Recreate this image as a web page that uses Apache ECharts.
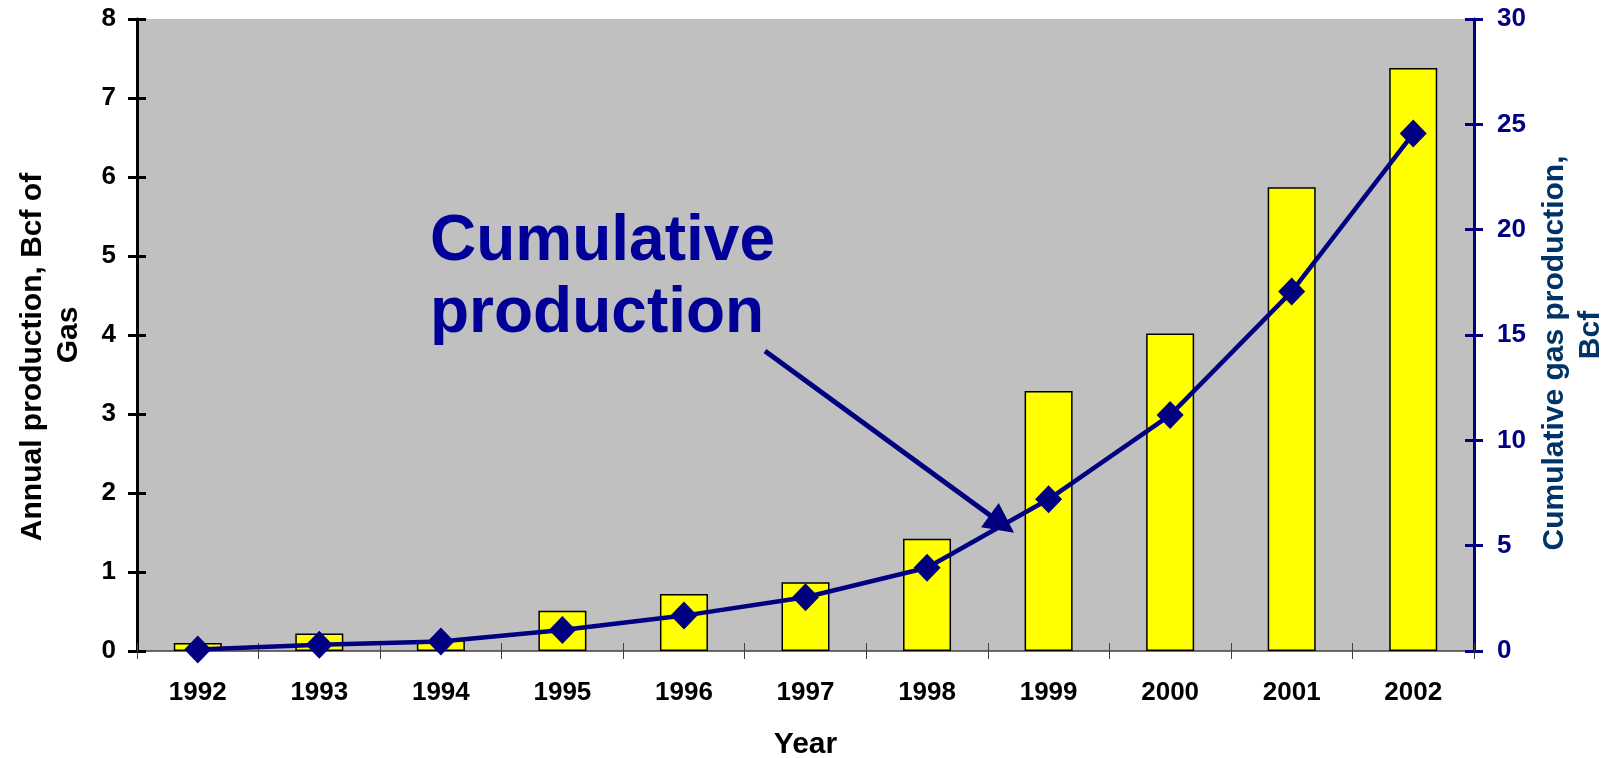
<!DOCTYPE html>
<html>
<head>
<meta charset="utf-8">
<style>
  html, body { margin: 0; padding: 0; background: #fff; }
  #chart { width: 1608px; height: 758px; }
</style>
<script src="https://cdn.jsdelivr.net/npm/echarts@6/dist/echarts.min.js"></script>
</head>
<body>
<div id="chart"></div>
<script>
const years = ['1992', '1993', '1994', '1995', '1996', '1997', '1998', '1999', '2000', '2001', '2002'];
const annualProduction = [0.10, 0.22, 0.14, 0.51, 0.72, 0.87, 1.42, 3.29, 4.02, 5.87, 7.38];
const cumulativeProduction = [0.07, 0.30, 0.45, 1.00, 1.68, 2.55, 3.95, 7.20, 11.20, 17.06, 24.56];

const FONT = '"Liberation Sans", Arial, sans-serif';
const NAVY = '#000080';

// first line of each axis title sits a bit lower than the second one, like in Excel
function titleLine(color, pad) {
  return { color: color, fontSize: 30, fontWeight: 'bold', fontFamily: FONT, lineHeight: 36, padding: [0, pad, 0, 0] };
}

const chart = echarts.init(document.getElementById('chart'));

chart.setOption({
  animation: false,
  textStyle: { fontFamily: FONT },
  grid: {
    left: 137, right: 134, top: 19, bottom: 107,
    outerBoundsMode: 'none',
    containLabel: false,
    show: true, backgroundColor: '#C0C0C0', borderWidth: 0
  },
  xAxis: [
    {
      type: 'category',
      data: years,
      position: 'bottom',
      name: 'Year',
      nameLocation: 'middle',
      nameGap: 79,
      nameTextStyle: { color: '#000', fontSize: 30, fontWeight: 'bold', fontFamily: FONT },
      axisLine: { lineStyle: { color: '#404040', width: 1.5 } },
      axisTick: { show: true, interval: 0, length: 8, lineStyle: { color: '#404040', width: 1 } },
      axisLabel: { color: '#000', fontSize: 26, fontWeight: 'bold', margin: 29, interval: 0 },
      splitLine: { show: false }
    },
    {
      // inner half of the crossing category ticks
      type: 'category',
      data: years,
      position: 'bottom',
      axisLine: { show: false },
      axisTick: { show: true, inside: true, interval: 0, length: 8, lineStyle: { color: '#404040', width: 1 } },
      axisLabel: { show: false },
      splitLine: { show: false }
    }
  ],
  yAxis: [
    {
      type: 'value',
      position: 'left',
      min: 0, max: 8, interval: 1,
      name: '{a|Annual production, Bcf of}\n{b|Gas}',
      nameLocation: 'middle',
      nameGap: 50,
      nameTextStyle: {
        color: '#000', fontSize: 30, fontWeight: 'bold', lineHeight: 36, fontFamily: FONT,
        rich: { a: titleLine('#000', 44), b: titleLine('#000', 0) }
      },
      axisLine: { show: true, lineStyle: { color: '#000', width: 3 } },
      axisTick: { show: true, length: 9, lineStyle: { color: '#000', width: 3 } },
      axisLabel: { color: '#000', fontSize: 26, fontWeight: 'bold', margin: 21 },
      splitLine: { show: false }
    },
    {
      type: 'value',
      position: 'right',
      min: 0, max: 30, interval: 5,
      name: '{a|Cumulative gas production,}\n{b|Bcf}',
      nameLocation: 'middle',
      nameGap: 60,
      nameTextStyle: {
        color: '#003366', fontSize: 30, fontWeight: 'bold', lineHeight: 36, fontFamily: FONT,
        rich: { a: titleLine('#003366', 36), b: titleLine('#003366', 0) }
      },
      axisLine: { show: true, lineStyle: { color: NAVY, width: 3 } },
      axisTick: { show: true, length: 9, lineStyle: { color: NAVY, width: 3 } },
      axisLabel: { color: NAVY, fontSize: 26, fontWeight: 'bold', margin: 23 },
      splitLine: { show: false }
    },
    {
      // inner half of the crossing left ticks
      type: 'value',
      position: 'left',
      min: 0, max: 8, interval: 1,
      axisLine: { show: false },
      axisTick: { show: true, inside: true, length: 9, lineStyle: { color: '#000', width: 3 } },
      axisLabel: { show: false },
      splitLine: { show: false }
    },
    {
      // inner half of the crossing right ticks
      type: 'value',
      position: 'right',
      min: 0, max: 30, interval: 5,
      axisLine: { show: false },
      axisTick: { show: true, inside: true, length: 9, lineStyle: { color: NAVY, width: 3 } },
      axisLabel: { show: false },
      splitLine: { show: false }
    }
  ],
  series: [
    {
      name: 'Annual production',
      type: 'bar',
      xAxisIndex: 0,
      yAxisIndex: 0,
      data: annualProduction,
      barWidth: 48,
      itemStyle: { color: '#FFFF00', borderColor: '#000', borderWidth: 1.5 },
      z: 2
    },
    {
      name: 'Cumulative production',
      type: 'line',
      xAxisIndex: 0,
      yAxisIndex: 1,
      data: cumulativeProduction,
      symbol: 'diamond',
      symbolSize: [27, 28],
      lineStyle: { color: NAVY, width: 4.5 },
      itemStyle: { color: NAVY },
      z: 5,
      markLine: {
        silent: true,
        symbol: ['none', 'triangle'],
        symbolSize: [30, 30],
        label: { show: false },
        lineStyle: { color: NAVY, width: 5, type: 'solid' },
        data: [[{ x: 765, y: 351 }, { x: 1002, y: 524 }]]
      }
    }
  ],
  graphic: [
    {
      type: 'text',
      left: 430,
      top: 206,
      z: 10,
      style: {
        text: 'Cumulative\nproduction',
        font: 'bold 64px ' + FONT,
        lineHeight: 72,
        fill: '#000099'
      }
    }
  ]
});
</script>
</body>
</html>
